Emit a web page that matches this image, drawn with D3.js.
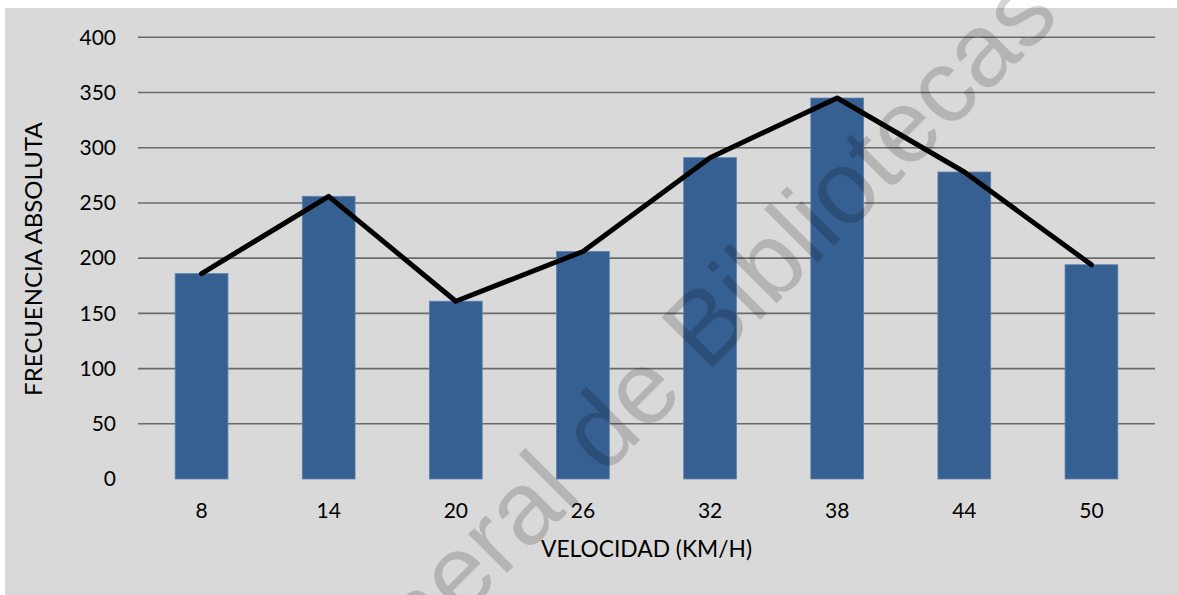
<!DOCTYPE html>
<html>
<head>
<meta charset="utf-8">
<script src="https://cdn.jsdelivr.net/npm/d3@7"></script>
<style>
  html, body { margin: 0; padding: 0; background: #ffffff; }
  svg { display: block; }
</style>
</head>
<body>
<svg id="chart" width="1177" height="595"></svg>
<script>
// Speed classes (km/h) and absolute frequency per class
const categories = ["8", "14", "20", "26", "32", "38", "44", "50"];
const frequencies = [186, 256, 161, 206, 291, 345, 278, 194];
const yTicks = [0, 50, 100, 150, 200, 250, 300, 350, 400];
const xTitle = "VELOCIDAD (KM/H)";
const yTitle = "FRECUENCIA ABSOLUTA";
const watermark = "General de Bibliotecas";

const W = 1177, H = 595;
const plot = { left: 138, right: 1155, top: 37.3, bottom: 479 };
const font = "Lato, 'Open Sans', sans-serif";

const svg = d3.select("#chart");

// chart panel
svg.append("rect")
  .attr("x", 5).attr("y", 8)
  .attr("width", W - 5).attr("height", H - 8)
  .attr("fill", "#d9d9d9");

const x = d3.scaleBand()
  .domain(categories)
  .range([plot.left, plot.right])
  .paddingInner(0.585)
  .paddingOuter(0.2925);

const y = d3.scaleLinear()
  .domain([0, 400])
  .range([plot.bottom, plot.top]);

// horizontal gridlines (no line at zero)
svg.append("g")
  .selectAll("line")
  .data(yTicks.filter(d => d > 0))
  .join("line")
  .attr("x1", plot.left).attr("x2", plot.right)
  .attr("y1", d => y(d)).attr("y2", d => y(d))
  .attr("stroke", "#6b6b6b")
  .attr("stroke-width", 1.6);

// y tick labels
const yAxis = d3.axisLeft(y).tickValues(yTicks).tickSize(0).tickPadding(0);
const gy = svg.append("g")
  .attr("transform", `translate(${plot.left - 22},0)`)
  .call(yAxis);
gy.select(".domain").remove();
gy.selectAll("text")
  .attr("font-family", font)
  .attr("font-size", 21)
  .attr("fill", "#000");

// x tick labels
const xAxis = d3.axisBottom(x).tickSize(0).tickPadding(0);
const gx = svg.append("g")
  .attr("transform", `translate(0,${plot.bottom + 24})`)
  .call(xAxis);
gx.select(".domain").remove();
gx.selectAll("text")
  .attr("font-family", font)
  .attr("font-size", 21)
  .attr("fill", "#000");

// bars
svg.append("g")
  .selectAll("rect")
  .data(frequencies)
  .join("rect")
  .attr("x", (d, i) => x(categories[i]))
  .attr("y", d => y(d))
  .attr("width", x.bandwidth())
  .attr("height", d => y(0) - y(d))
  .attr("fill", "#366092")
  .attr("stroke", "#5b80ad")
  .attr("stroke-width", 0.8);

// frequency polygon
const line = d3.line()
  .x((d, i) => x(categories[i]) + x.bandwidth() / 2)
  .y(d => y(d));

svg.append("path")
  .datum(frequencies)
  .attr("d", line)
  .attr("fill", "none")
  .attr("stroke", "#000")
  .attr("stroke-width", 5)
  .attr("stroke-linejoin", "round")
  .attr("stroke-linecap", "round");

// axis titles
svg.append("text")
  .attr("x", (plot.left + plot.right) / 2)
  .attr("y", 557)
  .attr("text-anchor", "middle")
  .attr("font-family", font)
  .attr("font-size", 22.8)
  .attr("fill", "#000")
  .text(xTitle);

svg.append("text")
  .attr("transform", `translate(42,${(plot.top + plot.bottom) / 2 + 1}) rotate(-90)`)
  .attr("text-anchor", "middle")
  .attr("font-family", font)
  .attr("font-size", 24)
  .attr("fill", "#000")
  .text(yTitle);

// diagonal watermark across the whole page
svg.append("text")
  .attr("transform", "translate(322,758) rotate(-45)")
  .attr("font-family", "'Liberation Sans', Arial, sans-serif")
  .attr("font-size", 104)
  .attr("fill", "#000")
  .attr("fill-opacity", 0.17)
  .text(watermark);
</script>
</body>
</html>
